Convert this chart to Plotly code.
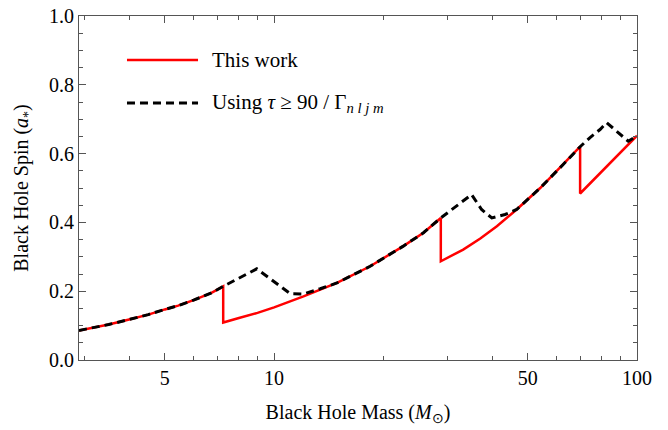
import plotly.graph_objects as go

# Black hole mass (solar masses) and spin values
mass_red = [2.9, 3.5, 3.96, 4.5, 5.0, 5.44, 6.0, 6.72, 7.24,
            7.24, 8.0, 9.0, 10.0, 12.05, 14.9, 18.4, 22.7, 25.8, 28.8,
            28.8, 33.2, 37.0, 41.1, 46.6, 54.1, 62.7, 69.7,
            69.7, 82.5, 100]
spin_red = [0.086, 0.103, 0.117, 0.132, 0.147, 0.158, 0.174, 0.195, 0.214,
            0.109, 0.122, 0.137, 0.153, 0.185, 0.224, 0.2725, 0.331, 0.370, 0.413,
            0.287, 0.321, 0.353, 0.389, 0.4375, 0.500, 0.569, 0.620,
            0.484, 0.563, 0.652]

mass_dash = [2.9, 3.5, 3.96, 4.5, 5.0, 5.44, 6.0, 6.72, 7.24, 8.96, 11.07, 12.05,
             13.4, 14.9, 18.4, 22.7, 25.8, 28.8, 35.0, 37.3, 39.8, 43.3, 46.6,
             54.1, 62.7, 69.7, 74.1, 79.1, 82.5, 88.1, 94.6, 100]
spin_dash = [0.086, 0.103, 0.117, 0.132, 0.147, 0.158, 0.174, 0.195, 0.214, 0.265, 0.193, 0.192,
             0.207, 0.224, 0.2725, 0.331, 0.370, 0.413, 0.481, 0.4375, 0.413, 0.423, 0.4375,
             0.500, 0.569, 0.620, 0.646, 0.670, 0.690, 0.665, 0.636, 0.652]

x_tickvals = [5, 10, 50, 100]
x_ticktext = ["5", "10", "50", "100"]
x_minor = [3, 4, 6, 7, 8, 9, 20, 30, 40, 60, 70, 80, 90]

legend_labels = ["This work", "Using <i>τ</i> ≥ 90 / Γ<sub><i>n l j m</i></sub>"]

FONT = "Liberation Serif"
AXC = "#555555"

fig = go.Figure()
fig.add_trace(go.Scatter(x=mass_red, y=spin_red, mode="lines",
                         line=dict(color="#ff0000", width=2.5),
                         name=legend_labels[0], showlegend=False))
fig.add_trace(go.Scatter(x=mass_dash, y=spin_dash, mode="lines",
                         line=dict(color="black", width=3, dash="8px,5px"),
                         name="Using τ ≥ 90/Γ", showlegend=False))

# manual legend
fig.add_shape(type="line", xref="paper", yref="paper", x0=0.086, x1=0.2133, y0=0.872, y1=0.872,
              line=dict(color="#ff0000", width=2.5))
fig.add_shape(type="line", xref="paper", yref="paper", x0=0.086, x1=0.2133, y0=0.747, y1=0.747,
              line=dict(color="black", width=3, dash="8px,5px"))
fig.add_annotation(xref="paper", yref="paper", x=0.2348, y=0.872, xanchor="left", yanchor="middle",
                   text=legend_labels[0], showarrow=False, font=dict(family=FONT, size=21, color="black"))
fig.add_annotation(xref="paper", yref="paper", x=0.2348, y=0.747, xanchor="left", yanchor="middle",
                   text=legend_labels[1], showarrow=False, font=dict(family=FONT, size=21, color="black"))

fig.update_layout(
    width=668, height=430,
    margin=dict(l=79, r=31, t=16, b=70, autoexpand=False),
    paper_bgcolor="white", plot_bgcolor="white",
    font=dict(family=FONT, size=20, color="black"),
    xaxis=dict(type="log", range=[0.4624, 2.0], tickvals=x_tickvals, ticktext=x_ticktext,
               automargin=False,
               ticks="inside", ticklen=7, tickcolor=AXC, tickwidth=1,
               showline=True, linecolor=AXC, linewidth=1.2, mirror="allticks",
               showgrid=False, zeroline=False,
               minor=dict(tickvals=x_minor, ticks="inside", ticklen=4, tickcolor=AXC, showgrid=False),
               title=dict(text="Black Hole Mass (<i>M</i><sub>⊙</sub>)", standoff=16,
                          font=dict(family=FONT, size=20)),
               tickfont=dict(family=FONT, size=20)),
    yaxis=dict(range=[0, 1.0], dtick=0.2, tickformat=".1f",
               automargin=False,
               ticks="inside", ticklen=7, tickcolor=AXC, tickwidth=1,
               showline=True, linecolor=AXC, linewidth=1.2, mirror="allticks",
               showgrid=False, zeroline=False,
               minor=dict(dtick=0.05, ticks="inside", ticklen=4, tickcolor=AXC, showgrid=False),
               title=dict(text="Black Hole Spin (<i>a</i><sub>*</sub>)", standoff=14,
                          font=dict(family=FONT, size=20)),
               tickfont=dict(family=FONT, size=20)),
)

fig.write_html("out.html")
